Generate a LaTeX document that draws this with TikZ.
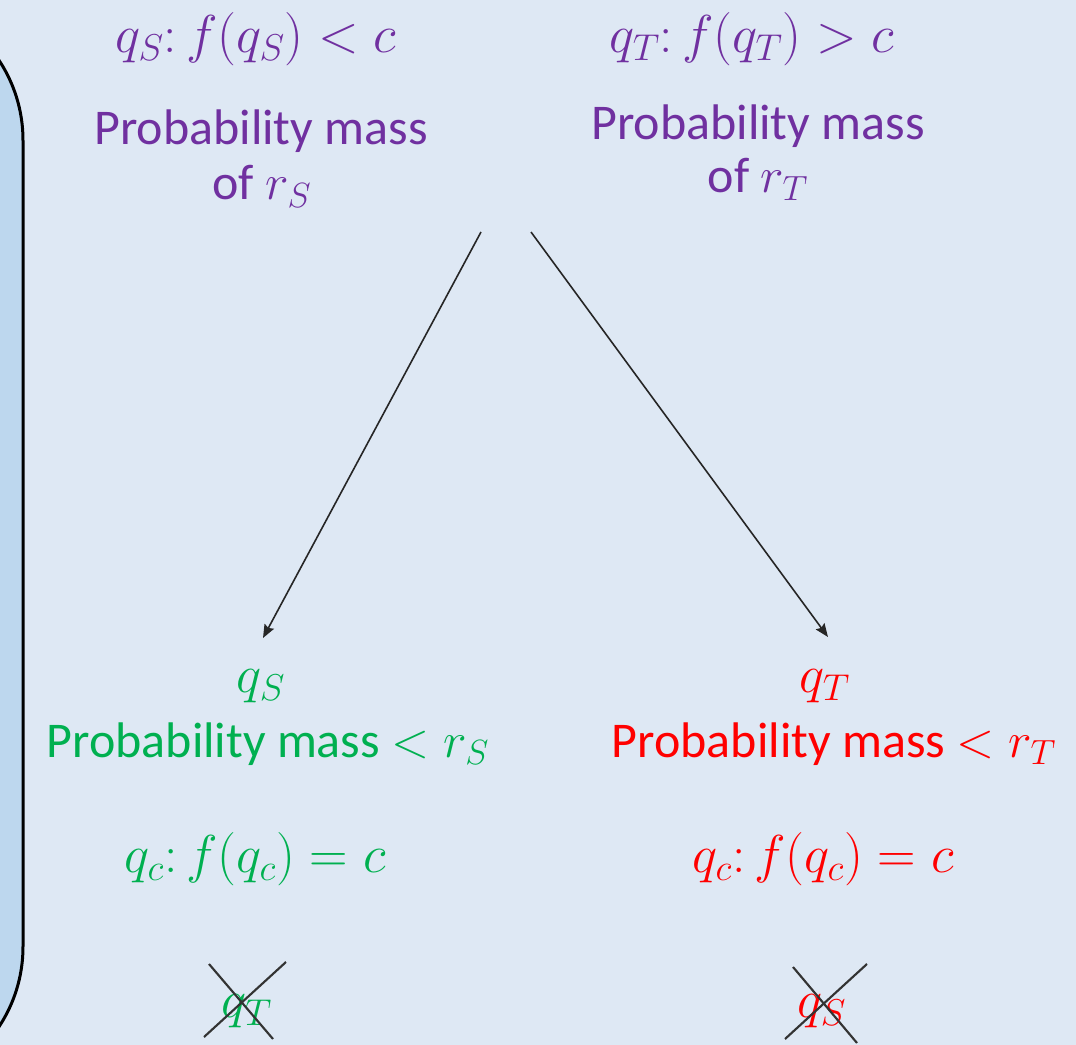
\RequirePackage{fix-cm}
\documentclass[tikz,border=0pt]{standalone}
\usepackage{fontspec}
\setmainfont{Carlito}
\usetikzlibrary{arrows.meta}
\definecolor{bg}{HTML}{DEE8F4}
\definecolor{boxfill}{HTML}{BDD7EE}
\definecolor{purp}{HTML}{7030A0}
\definecolor{grn}{HTML}{00B050}
\definecolor{rd}{HTML}{FF0000}
\begin{document}
\begin{tikzpicture}[x=0.75pt,y=-0.75pt,
  txt/.style={inner sep=0pt, anchor=base, font=\fontsize{37.5}{44}\selectfont},
  mtxt/.style={inner sep=0pt, anchor=base, font=\fontsize{40}{46}\selectfont},
  conn/.style={line width=1.2pt, draw=black!85, -{Stealth[length=10pt,width=8pt,inset=1.5pt]}},
  xline/.style={line width=1.6pt, draw=black!80}]
\fill[bg] (0,0) rectangle (1076,1045);
\useasboundingbox (0,0) rectangle (1076,1045);
\begin{scope}
\clip (0,0) rectangle (1076,1045);
\draw[line width=2.25pt, fill=boxfill, rounded corners=109pt] (-300,-5) rectangle (23,1092);
\end{scope}
% top left
\node[mtxt, text=purp] (tlm) at (256,53) {$q_S\colon f(q_S) < c$};
\node[txt, text=purp] (tlp) at (261,145) {Probability mass};
\node[txt, text=purp] (tlo) at (262,200) {of $r_S$};
% top right
\node[mtxt, text=purp] (trm) at (752,53) {$q_T\colon f(q_T) > c$};
\node[txt, text=purp] (trp) at (758,140) {Probability mass};
\node[txt, text=purp] (tro) at (758,193) {of $r_T$};
% bottom left
\node[mtxt, text=grn] (blq) at (261,692) {$q_S$};
\node[txt, text=grn] (blp) at (268,757) {Probability mass $< r_S$};
\node[mtxt, text=grn] (blm) at (255,872) {$q_c\colon f(q_c) = c$};
\node[mtxt, text=grn] (blx) at (247,1017) {$q_T$};
% bottom right
\node[mtxt, text=rd] (brq) at (825,692) {$q_T$};
\node[txt, text=rd] (brp) at (834,757) {Probability mass $< r_T$};
\node[mtxt, text=rd] (brm) at (823,872) {$q_c\colon f(q_c) = c$};
\node[mtxt, text=rd] (brx) at (822,1017) {$q_S$};
% arrows
\coordinate (s1) at (481,232);
\coordinate (e1) at (263,638);
\coordinate (s2) at (531,232);
\coordinate (e2) at (828,637);
\draw[conn] (s1) -- (e1);
\draw[conn] (s2) -- (e2);
% crosses
\coordinate (c1a) at (209,964);
\coordinate (c1b) at (273,1039);
\coordinate (c1c) at (286,962);
\coordinate (c1d) at (204,1037);
\draw[xline] (c1a) -- (c1b);
\draw[xline] (c1c) -- (c1d);
\coordinate (c2a) at (793,967);
\coordinate (c2b) at (857,1043);
\coordinate (c2c) at (867,964);
\coordinate (c2d) at (785,1039);
\draw[xline] (c2a) -- (c2b);
\draw[xline] (c2c) -- (c2d);
\end{tikzpicture}
\end{document}
